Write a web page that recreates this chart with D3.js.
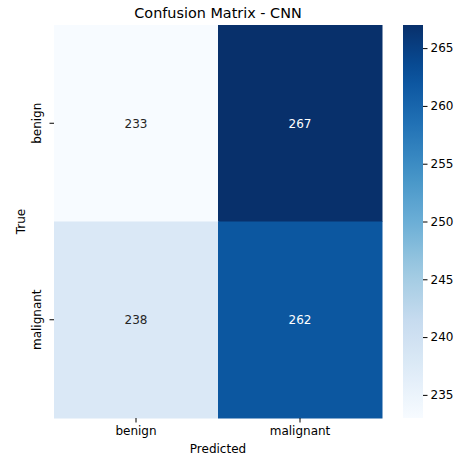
<!DOCTYPE html>
<html>
<head>
<meta charset="utf-8">
<script src="https://cdn.jsdelivr.net/npm/d3@7"></script>
<style>
  body { margin: 0; background: #fff; }
  text { font-family: "DejaVu Sans", sans-serif; }
</style>
</head>
<body>
<div id="chart"></div>
<script>
// confusion matrix values
const trueLabels = ["benign", "malignant"];
const predLabels = ["benign", "malignant"];
const counts = [
  [233, 267],
  [238, 262]
];
const cbarTicks = [235, 240, 245, 250, 255, 260, 265];

const W = 459, H = 458;
const margin = {top: 25, left: 54};
const hmW = 328, hmH = 393;   // heatmap size
const cbX = 403, cbW = 20;    // colorbar

// matplotlib "Blues" (piecewise linear)
const bluesStops = ["#f7fbff","#deebf7","#c6dbef","#9ecae1","#6baed6","#4292c6","#2171b5","#08519c","#08306b"];
const blues = d3.scaleLinear()
  .domain(d3.range(bluesStops.length).map(i => i / (bluesStops.length - 1)))
  .range(bluesStops)
  .interpolate(d3.interpolateRgb);

const flat = counts.flat();
const vmin = d3.min(flat), vmax = d3.max(flat);
const color = v => blues((v - vmin) / (vmax - vmin));

const svg = d3.select("#chart").append("svg")
  .attr("width", W).attr("height", H);

const x = d3.scaleBand().domain(predLabels).range([margin.left, margin.left + hmW]);
const y = d3.scaleBand().domain(trueLabels).range([margin.top, margin.top + hmH]);

// cells
const cells = [];
counts.forEach((row, i) => row.forEach((v, j) => cells.push({t: trueLabels[i], p: predLabels[j], v})));

svg.append("g").selectAll("rect").data(cells).join("rect")
  .attr("x", d => x(d.p))
  .attr("y", d => y(d.t))
  .attr("width", x.bandwidth() + 0.5)
  .attr("height", y.bandwidth() + 0.5)
  .attr("fill", d => color(d.v));

// annotations - light text on dark cells like seaborn
svg.append("g").selectAll("text").data(cells).join("text")
  .attr("x", d => x(d.p) + x.bandwidth() / 2)
  .attr("y", d => y(d.t) + y.bandwidth() / 2)
  .attr("dy", "0.36em")
  .attr("text-anchor", "middle")
  .attr("font-size", 12)
  .attr("fill", d => {
    const c = d3.rgb(color(d.v));
    const lum = 0.2126 * c.r + 0.7152 * c.g + 0.0722 * c.b;
    return lum > 100 ? "#262626" : "#ffffff";
  })
  .text(d => d.v);

// x axis
const xAxis = svg.append("g")
  .attr("transform", `translate(0,${margin.top + hmH})`)
  .call(d3.axisBottom(x).tickSize(4.5).tickPadding(3.5));
xAxis.select(".domain").remove();
xAxis.selectAll("text").attr("font-size", 12).attr("fill", "#000").style("font-family", "DejaVu Sans");
xAxis.selectAll("line").attr("stroke", "#000").attr("stroke-width", 1);

// y axis, labels rotated
const yAxis = svg.append("g")
  .attr("transform", `translate(${margin.left},0)`)
  .call(d3.axisLeft(y).tickSize(4.5).tickFormat(""));
yAxis.select(".domain").remove();
yAxis.selectAll("line").attr("stroke", "#000").attr("stroke-width", 1);
yAxis.selectAll(".tick").append("text")
  .attr("transform", "rotate(-90)")
  .attr("x", 0).attr("y", -13)
  .attr("text-anchor", "middle")
  .attr("font-size", 12)
  .attr("fill", "#000")
  .style("font-family", "DejaVu Sans")
  .text(d => d);

// axis titles
svg.append("text")
  .attr("x", margin.left + hmW / 2).attr("y", 453)
  .attr("text-anchor", "middle").attr("font-size", 12)
  .text("Predicted");
svg.append("text")
  .attr("transform", `translate(25,${margin.top + hmH / 2}) rotate(-90)`)
  .attr("text-anchor", "middle").attr("font-size", 12)
  .text("True");

// title
svg.append("text")
  .attr("x", margin.left + hmW / 2).attr("y", 18)
  .attr("text-anchor", "middle").attr("font-size", 14.4)
  .text("Confusion Matrix - CNN");

// colorbar
const cbY = d3.scaleLinear().domain([vmin, vmax]).range([margin.top + hmH, margin.top]);
const grad = svg.append("defs").append("linearGradient")
  .attr("id", "cbgrad").attr("x1", 0).attr("y1", 1).attr("x2", 0).attr("y2", 0);
d3.range(0, 1.0001, 0.05).forEach(t => {
  grad.append("stop").attr("offset", t).attr("stop-color", blues(t));
});
svg.append("rect")
  .attr("x", cbX).attr("y", margin.top)
  .attr("width", cbW).attr("height", hmH)
  .attr("fill", "url(#cbgrad)");

const cAxis = svg.append("g")
  .attr("transform", `translate(${cbX + cbW},0)`)
  .call(d3.axisRight(cbY).tickValues(cbarTicks).tickSize(4.5).tickPadding(3));
cAxis.select(".domain").remove();
cAxis.selectAll("text").attr("font-size", 12).attr("fill", "#000").style("font-family", "DejaVu Sans");
cAxis.selectAll("line").attr("stroke", "#000").attr("stroke-width", 1);
</script>
</body>
</html>
